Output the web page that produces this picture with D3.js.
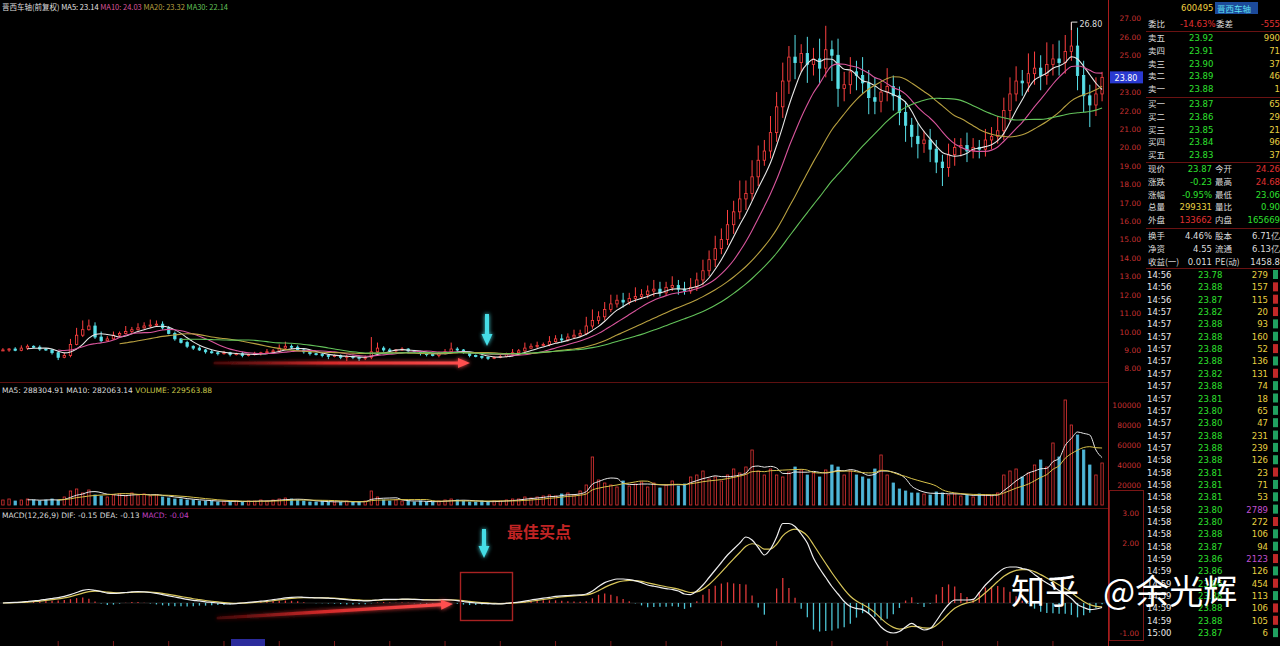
<!DOCTYPE html>
<html><head><meta charset="utf-8">
<script src="https://cdn.jsdelivr.net/npm/d3@7"></script>
<style>
body{margin:0;background:#000;overflow:hidden}
svg{display:block}
</style></head><body>
<script>
// ---- daily bars ----
const closes=[
9.00,9.05,8.98,9.10,9.20,9.15,9.05,9.00,8.85,8.60,
8.70,9.30,9.80,10.10,10.30,9.70,9.50,9.60,9.80,9.90,
10.00,10.10,10.20,10.30,10.35,10.40,10.20,9.90,9.60,9.40,
9.20,9.10,9.00,8.90,8.85,8.80,8.85,8.75,8.80,8.70,
8.75,8.80,8.85,8.90,8.95,9.10,9.20,9.15,9.00,8.90,
8.80,8.75,8.70,8.65,8.70,8.60,8.65,8.60,8.55,8.60,
8.90,9.10,9.00,8.95,9.00,9.05,8.95,8.90,8.80,8.75,
8.70,8.80,8.90,9.05,9.00,8.85,8.70,8.65,8.60,8.55,
8.60,8.65,8.75,8.85,8.95,9.10,9.20,9.25,9.30,9.45,
9.60,9.55,9.70,9.80,9.90,10.30,10.60,10.80,11.20,11.50,
11.70,11.60,11.80,11.90,12.00,12.20,12.30,12.10,12.40,12.50,
12.30,12.20,12.40,12.80,13.30,13.90,14.50,15.00,15.80,16.50,
17.20,17.50,18.40,19.30,19.80,20.80,22.20,23.60,24.90,24.60,
25.10,24.50,24.80,24.30,25.30,25.00,23.20,23.40,24.10,23.90,
23.50,22.70,22.50,23.00,23.30,22.80,21.90,21.20,20.60,20.20,
20.40,19.90,19.20,18.90,19.60,20.00,20.10,19.80,20.00,19.90,
20.40,20.60,20.90,22.00,22.90,23.60,23.50,24.00,24.30,23.90,
24.50,24.80,24.60,25.20,25.50,23.90,22.80,22.30,22.90,23.80]
// upper shadow above body
const wickHi=[
0.10,0.05,0.10,0.15,0.10,0.05,0.10,0.05,0.05,0.10,
0.15,0.30,0.40,0.50,0.35,0.20,0.30,0.15,0.20,0.10,
0.30,0.15,0.25,0.20,0.30,0.20,0.15,0.10,0.10,0.05,
0.10,0.05,0.10,0.05,0.10,0.05,0.10,0.05,0.05,0.10,
0.05,0.10,0.05,0.15,0.10,0.20,0.25,0.10,0.10,0.05,
0.05,0.05,0.10,0.05,0.05,0.05,0.10,0.05,0.05,0.10,
0.80,0.30,0.10,0.10,0.05,0.10,0.05,0.05,0.05,0.05,
0.05,0.10,0.15,0.35,0.10,0.05,0.05,0.05,0.05,0.05,
0.05,0.10,0.10,0.20,0.10,0.30,0.15,0.20,0.10,0.30,
0.20,0.25,0.20,0.30,0.20,0.50,0.60,0.30,0.40,0.50,
0.30,0.40,0.30,0.50,0.30,0.30,0.50,0.40,0.30,0.50,
0.30,0.40,0.50,0.40,0.60,0.50,0.70,0.60,0.80,0.60,
1.00,0.70,0.90,0.80,0.60,0.90,0.80,1.00,0.60,1.20,
0.50,0.90,0.60,1.10,1.30,0.50,0.90,0.70,0.80,0.60,
1.00,0.70,1.10,0.50,1.00,0.60,0.50,0.60,0.40,0.70,
0.50,0.60,0.50,0.40,0.60,0.50,0.40,0.70,0.50,0.40,
0.60,0.50,0.80,0.70,0.90,0.80,0.60,1.10,0.90,0.70,
1.20,0.80,1.00,0.90,1.30,1.00,0.80,0.60,0.90,0.30]
// lower shadow below body
const wickLo=[
0.05,0.10,0.05,0.05,0.10,0.05,0.10,0.05,0.10,0.15,
0.05,0.10,0.05,0.10,0.05,0.10,0.10,0.05,0.05,0.10,
0.05,0.10,0.05,0.05,0.10,0.05,0.10,0.05,0.10,0.05,
0.10,0.10,0.05,0.10,0.05,0.10,0.05,0.10,0.05,0.10,
0.05,0.05,0.10,0.05,0.05,0.10,0.05,0.10,0.05,0.10,
0.10,0.05,0.10,0.15,0.05,0.10,0.20,0.10,0.15,0.10,
0.10,0.05,0.10,0.05,0.10,0.05,0.10,0.05,0.10,0.10,
0.05,0.10,0.05,0.05,0.10,0.05,0.10,0.05,0.10,0.10,
0.05,0.05,0.05,0.10,0.05,0.10,0.05,0.10,0.05,0.10,
0.05,0.15,0.10,0.05,0.10,0.10,0.15,0.20,0.20,0.15,
0.20,0.30,0.15,0.20,0.10,0.20,0.30,0.20,0.15,0.20,
0.30,0.20,0.15,0.20,0.30,0.30,0.40,0.30,0.30,0.50,
0.40,0.60,0.40,0.50,0.30,0.40,0.50,0.60,0.70,0.90,
0.50,1.00,0.60,0.80,0.50,1.40,1.00,0.70,0.50,0.80,
0.60,0.90,0.70,0.60,0.50,0.80,0.70,0.90,0.60,0.80,
0.50,0.70,0.60,1.00,0.50,0.60,0.50,0.60,0.40,0.50,
0.40,0.50,0.40,0.50,0.60,0.40,0.70,0.50,0.60,0.80,
0.50,0.60,0.70,0.60,0.50,0.80,0.90,1.20,0.60,0.40]
// volume, thousand lots
const volumes=[
5,6,4,5,6,5,4,5,6,5,
8,14,16,12,15,10,9,8,10,11,
9,12,10,11,9,10,8,7,6,6,
5,5,4,4,4,3,4,3,4,3,
4,4,5,4,5,6,7,6,5,4,
3,3,4,3,3,3,4,3,3,4,
14,8,5,4,5,4,4,3,4,3,
3,4,5,6,5,4,3,3,4,3,
4,4,5,6,6,8,7,8,9,10,
9,11,12,10,14,20,48,25,22,20,
18,24,19,21,23,18,22,17,20,24,
19,21,28,30,34,26,28,24,30,36,
32,38,55,34,30,36,30,28,33,38,
35,30,32,28,35,40,38,30,34,30,
28,26,36,50,30,22,16,14,12,12,
11,10,13,12,10,11,9,10,8,11,
10,9,12,30,34,36,28,32,40,45,
38,62,48,105,80,70,55,40,30,42]
// MACD DIF line
const difs=[
0.00,0.01,0.02,0.03,0.05,0.07,0.09,0.12,0.15,0.18,
0.22,0.28,0.35,0.42,0.45,0.42,0.38,0.33,0.32,0.33,
0.35,0.37,0.38,0.37,0.35,0.32,0.28,0.24,0.20,0.16,
0.12,0.09,0.07,0.04,0.02,0.00,-0.02,-0.03,-0.02,0.00,
0.02,0.04,0.06,0.08,0.11,0.14,0.17,0.19,0.20,0.19,
0.18,0.17,0.17,0.16,0.15,0.13,0.11,0.09,0.08,0.07,
0.08,0.10,0.12,0.12,0.12,0.13,0.13,0.12,0.11,0.10,
0.10,0.10,0.11,0.10,0.08,0.05,0.02,0.00,-0.01,-0.02,
-0.03,-0.03,-0.01,0.01,0.03,0.06,0.10,0.13,0.16,0.19,
0.22,0.24,0.25,0.26,0.27,0.30,0.40,0.55,0.68,0.75,
0.80,0.80,0.78,0.74,0.68,0.60,0.56,0.52,0.48,0.45,
0.40,0.30,0.28,0.40,0.60,0.85,1.10,1.35,1.60,1.80,
2.00,2.20,2.10,1.85,1.60,1.80,2.20,2.65,2.65,2.55,
2.30,2.00,1.50,1.15,0.85,0.55,0.30,0.05,-0.12,-0.18,
-0.22,-0.35,-0.55,-0.80,-0.95,-1.00,-0.95,-0.80,-0.68,-0.80,
-0.90,-0.85,-0.60,-0.30,-0.05,0.10,0.10,0.10,0.12,0.35,
0.60,0.80,1.00,1.15,1.20,1.20,1.15,1.10,0.95,0.80,
0.67,0.55,0.42,0.30,0.15,-0.05,-0.15,-0.22,-0.20,-0.15]

const maPeriods=[5,10,20,30]
const volMaPeriods=[5,10]
const deaAlpha=0.4

const priceTicks=[8,9,10,11,12,13,14,15,16,17,18,19,20,21,22,23,24,25,26,27]
const volTicks=[20,40,60,80,100]
const macdTicks=[3,2,-1]

// ---- order book (right panel) ----
const stockCode="600495"
const stockName="晋西车轴"
const askNames=["卖五","卖四","卖三","卖二","卖一"]
const askPrices=[23.92,23.91,23.90,23.89,23.88]
const askVols=[990,71,37,46,1]
const bidNames=["买一","买二","买三","买四","买五"]
const bidPrices=[23.87,23.86,23.85,23.84,23.83]
const bidVols=[65,29,21,96,37]
const statNamesL=["现价","涨跌","涨幅","总量","外盘","换手","净资","收益(一)"]
const statValsL=["23.87","-0.23","-0.95%","299331","133662","4.46%","4.55","0.011"]
const statNamesR=["今开","最高","最低","量比","内盘","股本","流通","PE(动)"]
const statValsR=["24.26","24.68","23.06","0.90","165669","6.71亿","6.13亿","1458.8"]
const tradeTimes=["14:56","14:56","14:56","14:57","14:57","14:57","14:57","14:57","14:57","14:57",
"14:57","14:57","14:57","14:57","14:57","14:58","14:58","14:58","14:58","14:58",
"14:58","14:58","14:58","14:59","14:59","14:59","14:59","14:59","14:59","15:00"]
const tradePrices=[23.78,23.88,23.87,23.82,23.88,23.88,23.88,23.88,23.82,23.88,
23.81,23.80,23.80,23.88,23.88,23.88,23.81,23.81,23.81,23.80,
23.80,23.88,23.87,23.86,23.86,23.86,23.88,23.88,23.88,23.87]
const tradeVols=[279,157,115,20,93,160,52,136,131,74,
18,65,47,231,239,126,23,71,53,2789,
272,106,94,2123,126,454,113,106,105,6]
const tradeSides=["S","B","B","B","S","S","B","S","B","S",
"S","S","S","S","S","S","B","S","S","S",
"B","S","S","B","S","B","S","B","B","S"]

// ---- derived ----
const N=closes.length
const opens=closes.map((c,i)=>i==0?c:closes[i-1])
const highs=closes.map((c,i)=>Math.max(c,opens[i])+wickHi[i])
const lows=closes.map((c,i)=>Math.min(c,opens[i])-wickLo[i])
function sma(arr,p){
	return arr.map((v,i)=>i<p-1?null:d3.mean(arr.slice(i-p+1,i+1)))
}
const deas=[]
difs.forEach((v,i)=>{deas.push(i==0?v:deas[i-1]+(v-deas[i-1])*deaAlpha)})
const hist=difs.map((v,i)=>2*(v-deas[i]))

// ---- layout ----
const W=1280,H=646
const plotW=1105
const pBot=382,vBot=508
const UP="#ff4040",DN="#58e0e8",GRID="#5e1010"
const maColors=["#e6e6e6","#d8559c","#b8a040","#63c25a"]
const numFont="'DejaVu Sans',sans-serif"
const cjkFont="'Noto Sans CJK SC','Noto Sans',sans-serif"

const svg=d3.select("body").append("svg").attr("width",W).attr("height",H)
	.style("background","#000")
const defs=svg.append("defs")
const glow=defs.append("filter").attr("id","glow").attr("x","-30%").attr("y","-60%").attr("width","160%").attr("height","220%")
glow.append("feGaussianBlur").attr("stdDeviation",2.2).attr("result","b")
const fm=glow.append("feMerge")
fm.append("feMergeNode").attr("in","b")
fm.append("feMergeNode").attr("in","SourceGraphic")

const x=d3.scaleBand().domain(d3.range(N)).range([0,plotW]).paddingInner(0.45).paddingOuter(0.2)
const cx=i=>x(i)+x.bandwidth()/2
const yP=d3.scaleLinear().domain([7.26,28.0]).range([pBot,0])
const yV=d3.scaleLinear().domain([0,110]).range([505,395])
const yM=d3.scaleLinear().domain([0,2.6]).range([603,525])

// panel frame
svg.append("line").attr("x1",0).attr("x2",1108).attr("y1",pBot+0.5).attr("y2",pBot+0.5).attr("stroke",GRID)
svg.append("line").attr("x1",0).attr("x2",1108).attr("y1",vBot+0.5).attr("y2",vBot+0.5).attr("stroke",GRID)
svg.append("line").attr("x1",1108.5).attr("x2",1108.5).attr("y1",0).attr("y2",H).attr("stroke","#a81c1c")
svg.append("rect").attr("x",1109.5).attr("y",490.5).attr("width",34).attr("height",150).attr("fill","none").attr("stroke","#7a1616")

// ---- candles ----
const cg=svg.append("g")
const bars=cg.selectAll("g").data(d3.range(N)).enter().append("g")
bars.append("line")
	.attr("x1",i=>cx(i)).attr("x2",i=>cx(i))
	.attr("y1",i=>yP(highs[i])).attr("y2",i=>yP(lows[i]))
	.attr("stroke",i=>closes[i]>=opens[i]?UP:DN).attr("stroke-width",1)
bars.append("rect")
	.attr("x",i=>x(i)+0.5).attr("width",x.bandwidth()-1)
	.attr("y",i=>yP(Math.max(opens[i],closes[i])))
	.attr("height",i=>Math.max(1,Math.abs(yP(opens[i])-yP(closes[i]))))
	.attr("fill",i=>closes[i]>=opens[i]?"#000":DN)
	.attr("stroke",i=>closes[i]>=opens[i]?UP:DN).attr("stroke-width",0.8)

// moving averages
const mas=maPeriods.map(p=>sma(closes,p))
const maLine=d3.line().defined(d=>d[1]!=null).x(d=>cx(d[0])).y(d=>yP(d[1])).curve(d3.curveMonotoneX)
mas.forEach((m,k)=>{
	svg.append("path").attr("d",maLine(m.map((v,i)=>[i,v])))
		.attr("fill","none").attr("stroke",maColors[k]).attr("stroke-width",1.1)
})

// highest price marker
const iMax=d3.maxIndex(highs)
svg.append("path").attr("d","M"+cx(iMax)+","+(yP(highs[iMax])+8)+"V"+yP(highs[iMax])+"h6")
	.attr("fill","none").attr("stroke","#ddd").attr("stroke-width",1)
svg.append("text").attr("x",cx(iMax)+8).attr("y",yP(highs[iMax])+5).text(highs[iMax].toFixed(2))
	.attr("fill","#ddd").attr("font-size",8).attr("font-family",numFont)

// ---- volume ----
const vg=svg.append("g")
vg.selectAll("rect").data(d3.range(N)).enter().append("rect")
	.attr("x",i=>x(i)+0.5).attr("width",x.bandwidth()-1)
	.attr("y",i=>yV(volumes[i])).attr("height",i=>yV(0)-yV(volumes[i]))
	.attr("fill",i=>closes[i]>=opens[i]?"#000":"#4fb6d8")
	.attr("stroke",i=>closes[i]>=opens[i]?"#e03434":"#4fb6d8").attr("stroke-width",0.8)
const vmaColors=["#e8e8e8","#d8c24a"]
const vLine=d3.line().defined(d=>d[1]!=null).x(d=>cx(d[0])).y(d=>yV(d[1])).curve(d3.curveMonotoneX)
volMaPeriods.forEach((p,k)=>{
	svg.append("path").attr("d",vLine(sma(volumes,p).map((v,i)=>[i,v])))
		.attr("fill","none").attr("stroke",vmaColors[k]).attr("stroke-width",1)
})

// ---- MACD ----
svg.append("line").attr("x1",0).attr("x2",plotW).attr("y1",yM(0)).attr("y2",yM(0)).attr("stroke","#3a3a3a").attr("stroke-width",0.6)
svg.append("g").selectAll("line").data(d3.range(N)).enter().append("line")
	.attr("x1",i=>cx(i)).attr("x2",i=>cx(i))
	.attr("y1",yM(0)).attr("y2",i=>yM(hist[i]))
	.attr("stroke",i=>hist[i]>=0?"#e03a3a":"#4cc4d4").attr("stroke-width",1.3)
const mLine=d3.line().x((d,i)=>cx(i)).y(d=>yM(d)).curve(d3.curveMonotoneX)
svg.append("path").attr("d",mLine(deas)).attr("fill","none").attr("stroke","#d8c65a").attr("stroke-width",1.2)
svg.append("path").attr("d",mLine(difs)).attr("fill","none").attr("stroke","#eeeeee").attr("stroke-width",1.2)

// bottom date ticks
svg.append("g").selectAll("line").data(d3.range(9,N,9)).enter().append("line")
	.attr("x1",i=>cx(i)).attr("x2",i=>cx(i)).attr("y1",641).attr("y2",646).attr("stroke","#7a1a1a")
svg.append("rect").attr("x",231).attr("y",639).attr("width",34).attr("height",7).attr("fill","#2b2b9c")

// ---- axis labels ----
const axisG=svg.append("g").attr("font-family",numFont).attr("font-size",7.5).attr("fill","#c83232").attr("text-anchor","end")
axisG.selectAll(".pt").data(priceTicks).enter().append("text")
	.attr("x",1141).attr("y",d=>yP(d)+3).text(d=>d.toFixed(2))
axisG.selectAll(".vt").data(volTicks).enter().append("text")
	.attr("x",1141).attr("y",d=>yV(d)+3).text(d=>d*1000)
axisG.selectAll(".mt").data(macdTicks).enter().append("text")
	.attr("x",1139).attr("y",d=>yM(d)+3).text(d=>d.toFixed(2))
// current price tag
const last=closes[N-1]
svg.append("rect").attr("x",1110).attr("y",yP(last)-6).attr("width",33).attr("height",12).attr("fill","#2a3ad0")
svg.append("text").attr("x",1126).attr("y",yP(last)+3.5).attr("text-anchor","middle").text(last.toFixed(2))
	.attr("fill","#fff").attr("font-size",8).attr("font-family",numFont)

// ---- panel headers ----
const hdr=svg.append("text").attr("x",2).attr("y",10).attr("font-size",7.5).attr("font-family",cjkFont)
hdr.append("tspan").attr("fill","#ddd").text("晋西车轴(前复权)  ")
const maLast=mas.map(m=>m[N-1])
maPeriods.forEach((p,k)=>{
	hdr.append("tspan").attr("fill",maColors[k]).text("MA"+p+": "+maLast[k].toFixed(2)+"  ")
})
const vh=svg.append("text").attr("x",2).attr("y",393).attr("font-size",7.5).attr("font-family",numFont)
vh.append("tspan").attr("fill","#ddd").text("MA5: 288304.91  MA10: 282063.14  ")
vh.append("tspan").attr("fill","#c9c94a").text("VOLUME: 229563.88")
const mh=svg.append("text").attr("x",2).attr("y",518).attr("font-size",7.5).attr("font-family",numFont)
mh.append("tspan").attr("fill","#ddd").text("MACD(12,26,9) DIF: "+difs[N-1].toFixed(2)+"  DEA: "+deas[N-1].toFixed(2)+"  ")
mh.append("tspan").attr("fill","#c040c0").text("MACD: "+hist[N-1].toFixed(2))

// ---- annotations ----
function redArrow(id,x1,y1,x2,y2){
	const g=defs.append("linearGradient").attr("id",id).attr("gradientUnits","userSpaceOnUse")
		.attr("x1",x1).attr("y1",y1).attr("x2",x2).attr("y2",y2)
	g.append("stop").attr("offset",0).attr("stop-color","#6a1010").attr("stop-opacity",0.5)
	g.append("stop").attr("offset",0.45).attr("stop-color","#d42a2a")
	g.append("stop").attr("offset",1).attr("stop-color","#ff5050")
	const a=Math.atan2(y2-y1,x2-x1)
	const hx=x2-12*Math.cos(a),hy=y2-12*Math.sin(a)
	const ag=svg.append("g").attr("filter","url(#glow)")
	ag.append("line").attr("x1",x1).attr("y1",y1).attr("x2",hx).attr("y2",hy)
		.attr("stroke","url(#"+id+")").attr("stroke-width",3.2).attr("stroke-linecap","round")
	const pts=[[x2,y2],[hx+5*Math.sin(a),hy-5*Math.cos(a)],[hx-5*Math.sin(a),hy+5*Math.cos(a)]]
	ag.append("polygon").attr("points",pts.map(p=>p.join(",")).join(" ")).attr("fill","#ff5050")
}
function cyanArrow(xc,y0,yTip){
	const yh=yTip-12
	const pts=[[xc-2,y0],[xc+2,y0],[xc+2,yh],[xc+5.5,yh],[xc,yTip],[xc-5.5,yh],[xc-2,yh]]
	svg.append("polygon").attr("points",pts.map(p=>p.join(",")).join(" "))
		.attr("fill","#44dde6").attr("filter","url(#glow)")
}
redArrow("ra1",215,363,470,363)
redArrow("ra2",218,618,453,604)
cyanArrow(487,314,346)
cyanArrow(484,529,558)
svg.append("text").attr("x",507).attr("y",538).text("最佳买点")
	.attr("fill","#c02424").attr("font-size",16).attr("font-weight","bold").attr("font-family",cjkFont)
svg.append("rect").attr("x",460.5).attr("y",572.5).attr("width",52).attr("height",48)
	.attr("fill","none").attr("stroke","#a82222").attr("stroke-width",1.4)

// ---- right order book ----
const ob=svg.append("g").attr("font-size",8.5)
const obLine=y=>ob.append("line").attr("x1",1146).attr("x2",W).attr("y1",y+0.5).attr("y2",y+0.5).attr("stroke","#6a1212")
ob.append("text").attr("x",1181).attr("y",11).text(stockCode).attr("fill","#f0d040").attr("font-family",numFont)
ob.append("rect").attr("x",1215).attr("y",2).attr("width",43).attr("height",12).attr("fill","#1c4a9a")
ob.append("text").attr("x",1217).attr("y",11.5).text(stockName).attr("fill","#5fe0f0").attr("font-family",cjkFont)
ob.append("text").attr("x",1148).attr("y",27).text("委比").attr("fill","#ddd").attr("font-family",cjkFont)
ob.append("text").attr("x",1180).attr("y",27).text("-14.63%").attr("fill","#e03030").attr("font-family",numFont)
ob.append("text").attr("x",1216).attr("y",27).text("委差").attr("fill","#ddd").attr("font-family",cjkFont)
ob.append("text").attr("x",1280).attr("y",27).attr("text-anchor","end").text("-555").attr("fill","#e03030").attr("font-family",numFont)
obLine(31)
function bookRows(names,prices,vols,y0){
	names.forEach((n,k)=>{
		const y=y0+k*12.8
		ob.append("text").attr("x",1148).attr("y",y).text(n).attr("fill","#ddd").attr("font-family",cjkFont)
		ob.append("text").attr("x",1189).attr("y",y).text(prices[k].toFixed(2)).attr("fill","#2ee02e").attr("font-family",numFont)
		ob.append("text").attr("x",1280).attr("y",y).attr("text-anchor","end").text(vols[k]).attr("fill","#e8d040").attr("font-family",numFont)
	})
}
bookRows(askNames,askPrices,askVols,41)
obLine(97)
bookRows(bidNames,bidPrices,bidVols,107)
obLine(162)
const colL=["#2ee02e","#2ee02e","#2ee02e","#e8d040","#e03030","#ddd","#ddd","#ddd"]
const colR=["#e03030","#e03030","#2ee02e","#2ee02e","#2ee02e","#ddd","#ddd","#ddd"]
statNamesL.forEach((n,k)=>{
	const y=172+k*12.8+(k>=5?3:0)
	ob.append("text").attr("x",1148).attr("y",y).text(n).attr("fill","#ddd").attr("font-family",cjkFont)
	ob.append("text").attr("x",1212).attr("y",y).attr("text-anchor","end").text(statValsL[k]).attr("fill",colL[k]).attr("font-family",numFont)
	ob.append("text").attr("x",1215).attr("y",y).text(statNamesR[k]).attr("fill","#ddd").attr("font-family",cjkFont)
	ob.append("text").attr("x",1280).attr("y",y).attr("text-anchor","end").text(statValsR[k]).attr("fill",colR[k]).attr("font-family",numFont)
})
obLine(228)
obLine(268)
tradeTimes.forEach((t,k)=>{
	const y=278+k*12.35
	ob.append("text").attr("x",1147).attr("y",y).text(t).attr("fill","#e8e8e8").attr("font-family",numFont)
	ob.append("text").attr("x",1198).attr("y",y).text(tradePrices[k].toFixed(2)).attr("fill","#2ee02e").attr("font-family",numFont)
	ob.append("text").attr("x",1268).attr("y",y).attr("text-anchor","end").text(tradeVols[k])
		.attr("fill",tradeVols[k]>=1000?"#c050d0":"#e8d040").attr("font-family",numFont)
	ob.append("rect").attr("x",1273).attr("y",y-8).attr("width",5).attr("height",9)
		.attr("fill",tradeSides[k]=="B"?"#c02828":"#20a060")
})

// ---- watermark ----
const wm=svg.append("g").attr("font-family",cjkFont).attr("font-size",34).attr("fill","#fff")
wm.append("text").attr("x",1011).attr("y",604).text("知乎")
wm.append("text").attr("x",1103).attr("y",604).text("@余光辉")
</script>
</body></html>
